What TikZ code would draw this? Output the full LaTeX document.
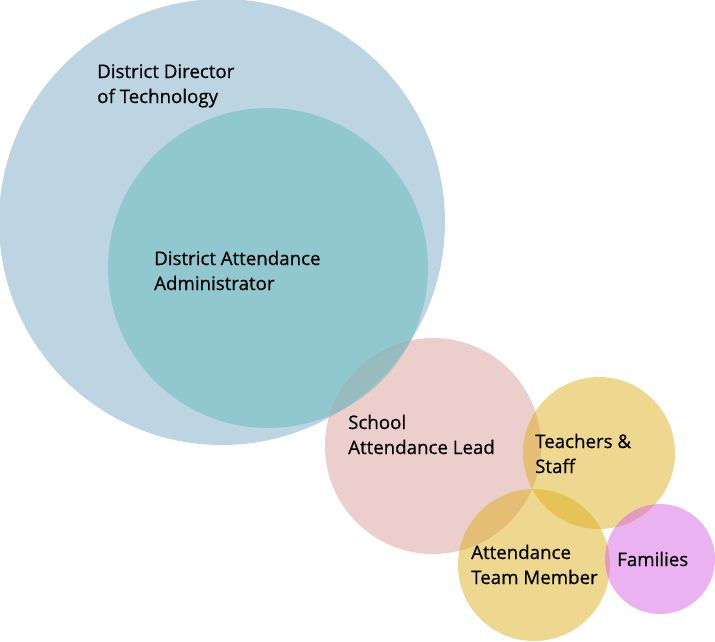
\documentclass[tikz,border=0pt]{standalone}
\usepackage{fontspec}
\setmainfont{Open Sans}[FakeBold=0.6]
\definecolor{cblue}{RGB}{189,213,227}
\definecolor{cteal}{RGB}{117,191,195}
\definecolor{cpink}{RGB}{217,159,153}
\definecolor{cyellow}{RGB}{221,175,31}
\definecolor{cmagenta}{RGB}{215,101,227}
\tikzset{
  bubble/.style={circle, inner sep=0pt, outer sep=0pt, draw=none},
  label text/.style={anchor=base west, inner sep=0pt, align=left, text=black,
    font=\fontsize{18.7}{25}\selectfont},
}
\begin{document}
\begin{tikzpicture}[x=1pt,y=-1pt]
\useasboundingbox (0,0) rectangle (715,641);
\node[bubble, fill=cblue, minimum size=446pt] (dirtech) at (222,222) {};
\node[bubble, fill=cpink, fill opacity=0.5, minimum size=216pt] (school) at (433,446) {};
\node[bubble, fill=cteal, fill opacity=0.6, minimum size=320pt] (distatt) at (268,268) {};
\node[bubble, fill=cyellow, fill opacity=0.5, minimum size=152pt] (teachers) at (599,453) {};
\node[bubble, fill=cyellow, fill opacity=0.5, minimum size=152pt] (team) at (534,565) {};
\node[bubble, fill=cmagenta, fill opacity=0.5, minimum size=110pt] (families) at (660,559) {};
\node[label text] (t1) at (97,103) {District Director\\of Technology};
\node[label text] (t2) at (154,290) {District Attendance\\Administrator};
\node[label text] (t3) at (348,454) {School\\Attendance Lead};
\node[label text] (t4) at (535,473) {Teachers \&\\Staff};
\node[label text] (t5) at (471,584) {Attendance\\Team Member};
\node[label text] (t6) at (617,566) {Families};
\end{tikzpicture}
\end{document}
